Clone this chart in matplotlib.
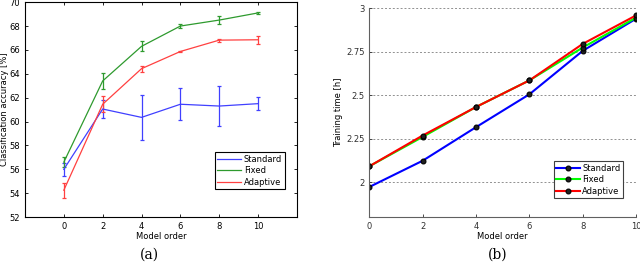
import numpy as np
import matplotlib
matplotlib.use("Agg")
import matplotlib.pyplot as plt
from matplotlib.lines import Line2D

order = [0, 2, 4, 6, 8, 10]

# (a) classification accuracy [%] with error bars
acc_standard = [56.0, 61.05, 60.35, 61.45, 61.3, 61.5]
err_standard = [0.55, 0.75, 1.9, 1.35, 1.7, 0.55]
acc_fixed = [56.6, 63.4, 66.3, 68.0, 68.5, 69.1]
err_fixed = [0.4, 0.7, 0.43, 0.18, 0.37, 0.1]
acc_adaptive = [54.25, 61.45, 64.43, 65.87, 66.82, 66.85]
err_adaptive = [0.62, 0.68, 0.24, 0.08, 0.12, 0.35]

# (b) training time [h]
time_standard = [1.973, 2.124, 2.317, 2.506, 2.756, 2.941]
time_fixed = [2.092, 2.261, 2.433, 2.586, 2.775, 2.947]
time_adaptive = [2.092, 2.269, 2.433, 2.586, 2.796, 2.960]

names = ["Standard", "Fixed", "Adaptive"]

plt.rcParams['font.family'] = ['DejaVu Sans']
fs = 6

fig = plt.figure(figsize=(6.4, 2.7), dpi=100)

# ---------------- (a) ----------------
ax1 = fig.add_axes([0.039, 0.196, 0.425, 0.796])
cols_a = ["#4040ff", "#2e9a2e", "#ff4040"]
for y, e, c in zip([acc_standard, acc_fixed, acc_adaptive],
                   [err_standard, err_fixed, err_adaptive], cols_a):
    ax1.errorbar(order, y, yerr=e, color=c, lw=0.9, elinewidth=0.9,
                 capsize=1.5, capthick=0.9)
ax1.set_xlim(-2, 12)
ax1.set_ylim(52, 70)
ax1.set_xticks(order)
ax1.set_yticks(np.arange(52, 71, 2))
ax1.tick_params(direction='in', labelsize=fs, length=2, width=0.6,
                top=True, right=True)
ax1.set_xlabel("Model order", fontsize=fs, labelpad=1)
ax1.set_ylabel("Classification accuracy [%]", fontsize=fs)
ax1.yaxis.set_label_coords(-0.058, 0.5)
for s in ax1.spines.values():
    s.set_linewidth(0.8)
h1 = [Line2D([], [], color=c, lw=0.9) for c in cols_a]
leg1 = ax1.legend(h1, names, loc='lower right', bbox_to_anchor=(0.955, 0.13),
                  fontsize=fs, fancybox=False, edgecolor='black',
                  handlelength=2.8, handletextpad=0.4, borderpad=0.3,
                  labelspacing=0.3, borderaxespad=0, framealpha=1)
leg1.get_frame().set_linewidth(0.8)

# ---------------- (b) ----------------
ax2 = fig.add_axes([0.577, 0.196, 0.417, 0.773])
cols_b = ["#0000ff", "#00ff00", "#ff0000"]
for y, c, n in zip([time_standard, time_fixed, time_adaptive], cols_b, names):
    ax2.plot(order, y, color=c, lw=1.5, marker='o', ms=3.5,
             mfc='#202020', mec='black', mew=0.8, label=n)
ax2.set_xlim(0, 10)
ax2.set_ylim(1.8, 3.0)
ax2.set_xticks(order)
ax2.set_yticks([2, 2.25, 2.5, 2.75, 3])
ax2.set_yticklabels(["2", "2.25", "2.5", "2.75", "3"])
ax2.yaxis.grid(True, ls=(0, (2, 2)), color='#909090', lw=0.7)
ax2.spines['top'].set_visible(False)
ax2.spines['right'].set_visible(False)
ax2.spines['left'].set_color('#606060')
ax2.spines['bottom'].set_color('#606060')
ax2.tick_params(direction='in', labelsize=fs, length=2, width=0.6,
                colors='#303030')
ax2.set_xlabel("Model order", fontsize=fs, labelpad=1)
ax2.set_ylabel("Training time [h]", fontsize=fs, labelpad=2)
leg2 = ax2.legend(loc='lower right', bbox_to_anchor=(0.95, 0.09),
                  fontsize=fs, fancybox=False, edgecolor='#404040',
                  handlelength=2.8, handletextpad=0.3, borderpad=0.3,
                  labelspacing=0.3, borderaxespad=0, framealpha=1)
leg2.get_frame().set_linewidth(0.8)

fig.text(0.234, 0.03, "(a)", ha='center', va='bottom', fontsize=10,
         family='DejaVu Serif')
fig.text(0.777, 0.03, "(b)", ha='center', va='bottom', fontsize=10,
         family='DejaVu Serif')

fig.savefig("out.png", dpi=100)
